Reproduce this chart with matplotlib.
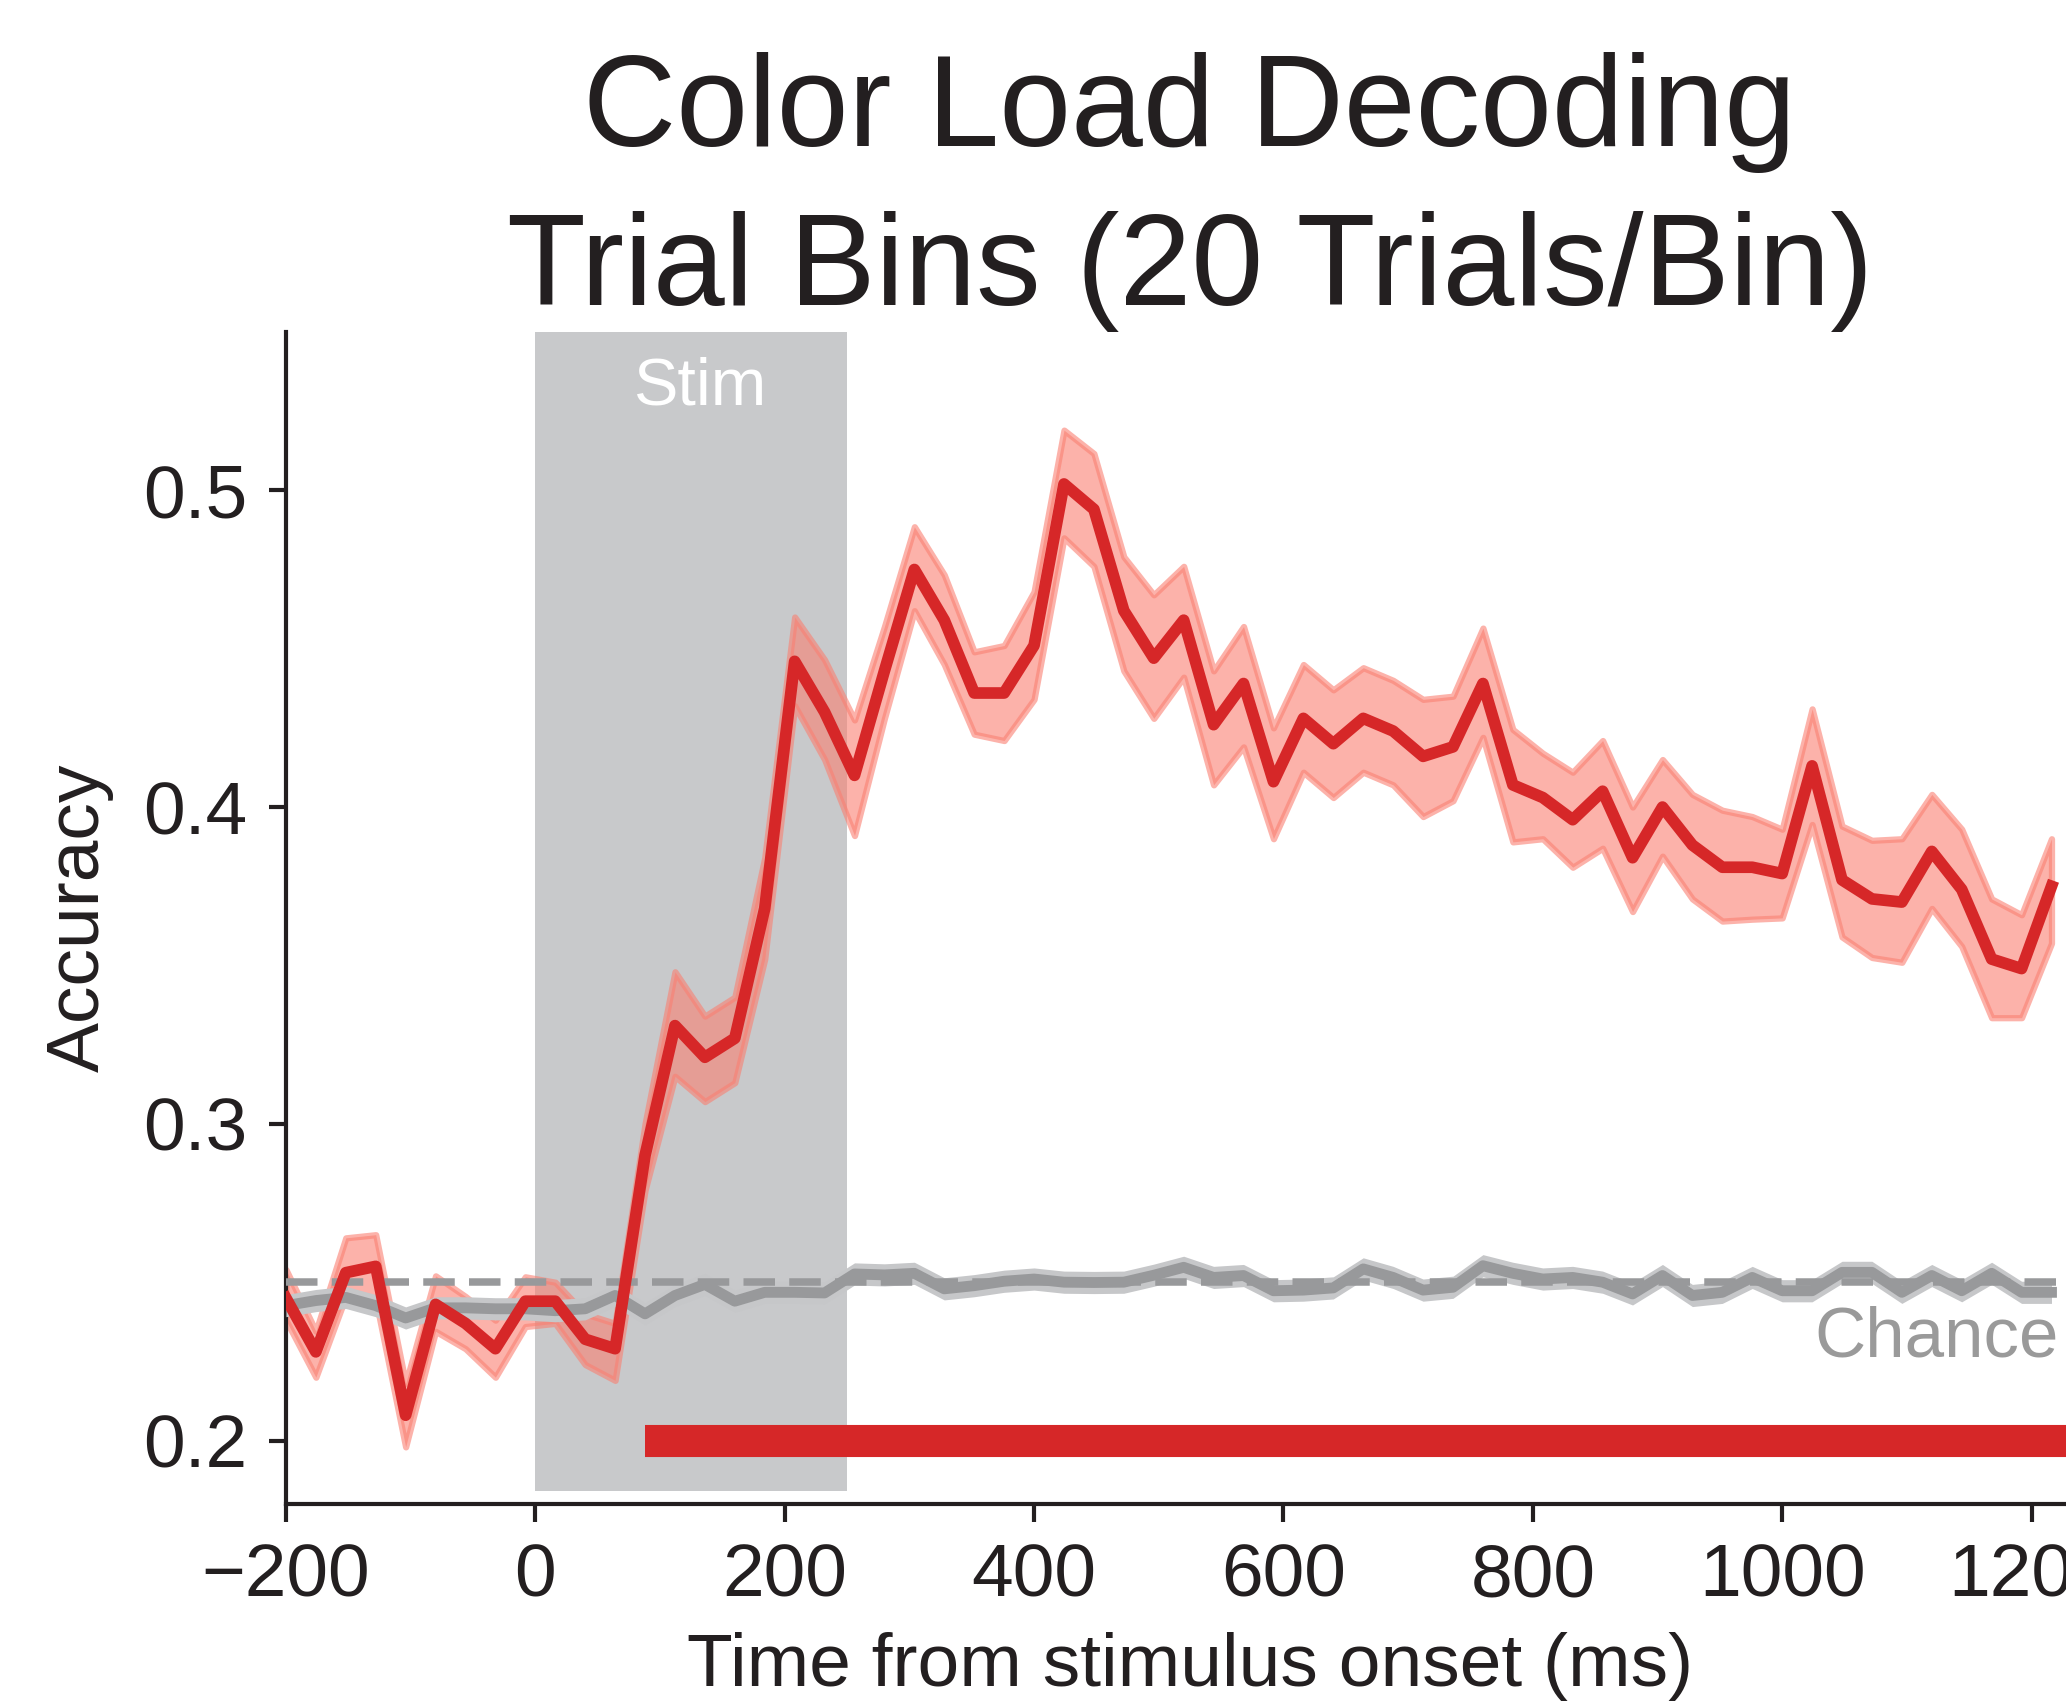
import numpy as np
import matplotlib
matplotlib.use("Agg")
import matplotlib.pyplot as plt

plt.rcParams['font.family'] = ['Liberation Sans', 'DejaVu Sans']

# time axis (ms), one point every 24 ms
times = np.arange(-200, 1217, 24)

# colour-load decoding accuracy (mean and band edges)
acc_mean = [0.245, 0.228, 0.253, 0.255, 0.208, 0.243, 0.237, 0.229, 0.244, 0.244,
            0.232, 0.229, 0.290, 0.331, 0.321, 0.327, 0.368, 0.446, 0.430, 0.410,
            0.443, 0.475, 0.459, 0.436, 0.436, 0.451, 0.502, 0.494, 0.462, 0.447,
            0.459, 0.426, 0.439, 0.408, 0.428, 0.420, 0.428, 0.424, 0.416, 0.419,
            0.439, 0.407, 0.403, 0.396, 0.405, 0.384, 0.400, 0.388, 0.381, 0.381,
            0.379, 0.413, 0.377, 0.371, 0.370, 0.386, 0.374, 0.352, 0.349, 0.375]
acc_upper = [0.254, 0.2345, 0.264, 0.265, 0.218, 0.252, 0.2455, 0.238, 0.2517, 0.250,
             0.240, 0.237, 0.300, 0.348, 0.334, 0.340, 0.384, 0.460, 0.4465, 0.4275,
             0.457, 0.4885, 0.4733, 0.449, 0.451, 0.468, 0.519, 0.5116, 0.479, 0.467,
             0.476, 0.443, 0.457, 0.425, 0.445, 0.437, 0.444, 0.440, 0.434, 0.435,
             0.4565, 0.4245, 0.417, 0.411, 0.421, 0.400, 0.415, 0.404, 0.399, 0.397,
             0.393, 0.431, 0.394, 0.3895, 0.390, 0.404, 0.393, 0.371, 0.366, 0.390]
acc_lower = [0.238, 0.220, 0.2455, 0.2445, 0.198, 0.2345, 0.229, 0.220, 0.236, 0.237,
             0.224, 0.219, 0.279, 0.315, 0.307, 0.313, 0.352, 0.432, 0.415, 0.391,
             0.428, 0.462, 0.445, 0.423, 0.421, 0.434, 0.485, 0.476, 0.443, 0.428,
             0.441, 0.407, 0.419, 0.390, 0.411, 0.403, 0.411, 0.407, 0.397, 0.402,
             0.422, 0.389, 0.390, 0.381, 0.387, 0.367, 0.3845, 0.371, 0.364, 0.3646,
             0.365, 0.3945, 0.359, 0.3525, 0.351, 0.368, 0.356, 0.3335, 0.3335, 0.357]

# shuffled-label (null) accuracy
null_mean = [0.2426, 0.2442, 0.2452, 0.2426, 0.2387, 0.2419, 0.2419, 0.2416, 0.2416, 0.2410,
             0.2416, 0.2458, 0.2400, 0.2458, 0.2493, 0.2440, 0.2468, 0.2468, 0.2466, 0.2526,
             0.2523, 0.2528, 0.2479, 0.2489, 0.2503, 0.2510, 0.2500, 0.2499, 0.2500, 0.2522,
             0.2547, 0.2515, 0.2521, 0.2473, 0.2475, 0.2482, 0.2542, 0.2515, 0.2475, 0.2484,
             0.2552, 0.2528, 0.2510, 0.2515, 0.2500, 0.2463, 0.2521, 0.2458, 0.2468, 0.2515,
             0.2473, 0.2473, 0.2531, 0.2531, 0.2468, 0.2521, 0.2473, 0.2528, 0.2468, 0.2468]
null_err = 0.0035

chance = 0.25
stim_on, stim_off = 0, 250
sig_start, sig_end = 88, 1240
sig_y = 0.2

xticks = [-200, 0, 200, 400, 600, 800, 1000, 1200]
yticks = [0.2, 0.3, 0.4, 0.5]

ink = '#231f20'
red = '#d62728'
grey = '#98999b'

fig = plt.figure(figsize=(2066 / 300, 1703 / 300), dpi=300)
ax = fig.add_axes([0.1384, 0.1169, 0.8751, 0.6882])

ax.set_xlim(-200, 1250)
ax.set_ylim(0.18, 0.55)

# stimulus period
ax.axvspan(stim_on, stim_off, ymin=(0.184 - 0.18) / 0.37, ymax=1,
           color='#c8c9cb', lw=0, zorder=0)
ax.text(132, 0.527, 'Stim', color='white', fontsize=16, ha='center', va='baseline')

# decoding accuracy band
ax.fill_between(times, acc_lower, acc_upper, color='salmon', alpha=0.6,
                lw=1.5, edgecolor='salmon', zorder=2)

# null distribution
nm = np.array(null_mean)
ax.fill_between(times, nm - null_err, nm + null_err, color='#c6c7c9', lw=0, zorder=3)
ax.plot(times, null_mean, color=grey, lw=2.6, zorder=3)
ax.axhline(chance, color=grey, lw=1.8, dashes=(4.2, 1.9), zorder=3)
ax.text(1222, 0.2265, 'Chance', color='#9a9a9a', fontsize=17, ha='right', va='baseline')

ax.plot(times, acc_mean, color=red, lw=2.8, zorder=4)

# significant timepoints
ax.plot([sig_start, sig_end], [sig_y, sig_y], color=red, lw=7.7,
        solid_capstyle='butt', zorder=5)

ax.set_xticks(xticks)
ax.set_yticks(yticks)
ax.set_yticklabels([f'{v:.1f}' for v in yticks])
ax.tick_params(labelsize=18, width=1, length=4.2, pad=5, colors=ink)

for side in ['top', 'right']:
    ax.spines[side].set_visible(False)
for side in ['left', 'bottom']:
    ax.spines[side].set_linewidth(1)
    ax.spines[side].set_color(ink)

ax.set_xlabel('Time from stimulus onset (ms)', fontsize=18, color=ink, labelpad=5)
ax.set_ylabel('Accuracy', fontsize=18, color=ink, labelpad=7)
ax.set_title('Color Load Decoding\nTrial Bins (20 Trials/Bin)', fontsize=31,
             color=ink, pad=3, linespacing=1.4)

fig.savefig('out.png', dpi=300)
